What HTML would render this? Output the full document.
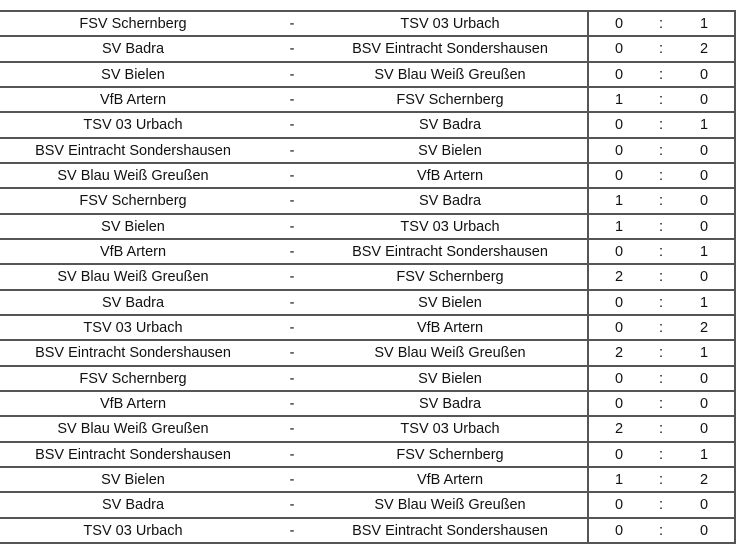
<!DOCTYPE html><html><head><style>
body{margin:0;width:743px;height:560px;background:#fff;font-family:"Liberation Sans",Arial,sans-serif;font-size:14.5px;color:#111;position:relative;overflow:hidden}
.h{position:absolute;left:0;width:736px;height:2px;background:#555}
.v{position:absolute;top:11px;height:533px;width:2px;background:#555}
.t{position:absolute;transform:translateX(-50%);white-space:nowrap;line-height:25px}
</style></head><body>
<div class="v" style="left:587px"></div><div class="v" style="left:734px"></div>
<script>
var d=[["FSV Schernberg","TSV 03 Urbach",0,1],["SV Badra","BSV Eintracht Sondershausen",0,2],["SV Bielen","SV Blau Weiß Greußen",0,0],["VfB Artern","FSV Schernberg",1,0],["TSV 03 Urbach","SV Badra",0,1],["BSV Eintracht Sondershausen","SV Bielen",0,0],["SV Blau Weiß Greußen","VfB Artern",0,0],["FSV Schernberg","SV Badra",1,0],["SV Bielen","TSV 03 Urbach",1,0],["VfB Artern","BSV Eintracht Sondershausen",0,1],["SV Blau Weiß Greußen","FSV Schernberg",2,0],["SV Badra","SV Bielen",0,1],["TSV 03 Urbach","VfB Artern",0,2],["BSV Eintracht Sondershausen","SV Blau Weiß Greußen",2,1],["FSV Schernberg","SV Bielen",0,0],["VfB Artern","SV Badra",0,0],["SV Blau Weiß Greußen","TSV 03 Urbach",2,0],["BSV Eintracht Sondershausen","FSV Schernberg",0,1],["SV Bielen","VfB Artern",1,2],["SV Badra","SV Blau Weiß Greußen",0,0],["TSV 03 Urbach","BSV Eintracht Sondershausen",0,0]];
var h="",rh=532/21;
for(var i=0;i<=21;i++)h+='<div class="h" style="top:'+Math.round(10+i*rh)+'px"></div>';
d.forEach(function(r,i){var y=Math.round(12+i*rh);
[[133,r[0]],[292,"-"],[450,r[1]],[619,r[2]],[661,":"],[704,r[3]]].forEach(function(c){h+='<div class="t" style="left:'+c[0]+'px;top:'+y+'px">'+c[1]+'</div>';});});
document.write(h);
</script>
</body></html>
